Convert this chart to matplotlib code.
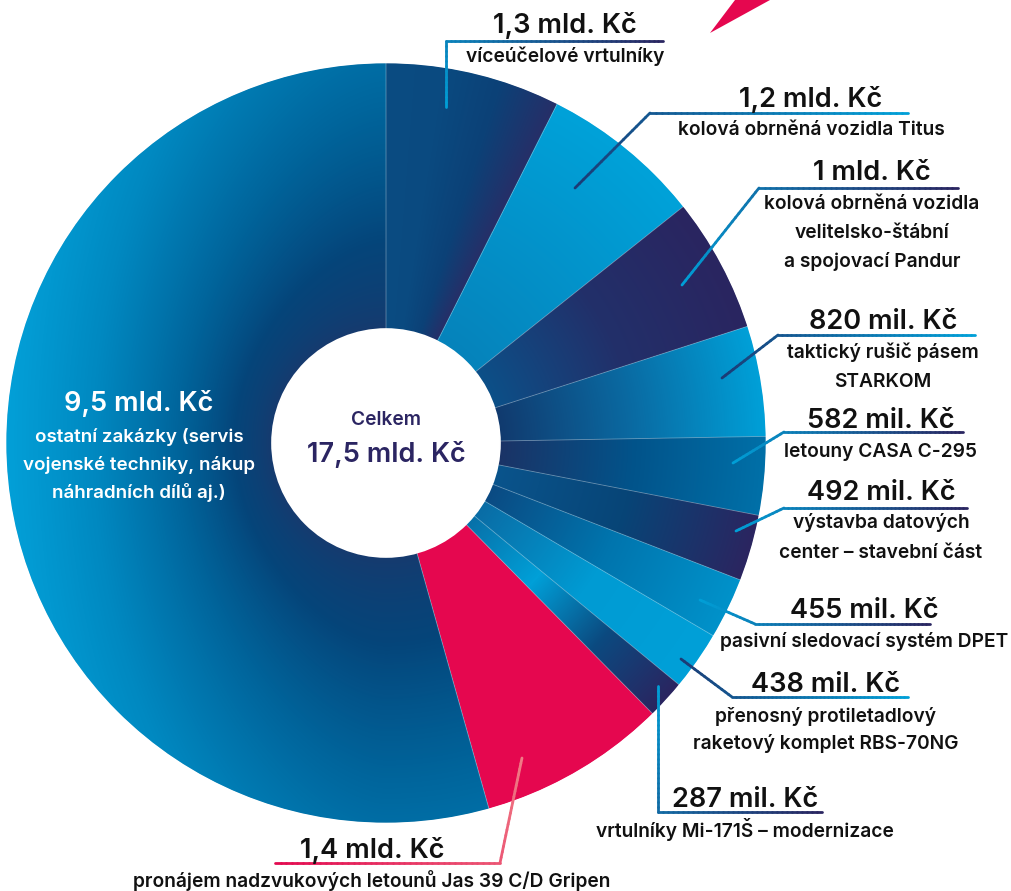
import numpy as np
import matplotlib.pyplot as plt
from matplotlib.colors import LinearSegmentedColormap
from matplotlib.collections import LineCollection
from matplotlib.patches import Polygon, Circle

plt.rcParams['font.family'] = ['Inter', 'DejaVu Sans']

W, H = 1012, 891

# Zakázky (mld. Kč), po směru hodinových ručiček od 12 hodin
values = [1.3, 1.2, 1.0, 0.82, 0.582, 0.492, 0.455, 0.438, 0.287, 1.4, 9.5]
value_labels = ['1,3 mld. Kč', '1,2 mld. Kč', '1 mld. Kč', '820 mil. Kč', '582 mil. Kč',
                '492 mil. Kč', '455 mil. Kč', '438 mil. Kč', '287 mil. Kč', '1,4 mld. Kč',
                '9,5 mld. Kč']
descriptions = [
    ['víceúčelové vrtulníky'],
    ['kolová obrněná vozidla Titus'],
    ['kolová obrněná vozidla', 'velitelsko-štábní', 'a spojovací Pandur'],
    ['taktický rušič pásem', 'STARKOM'],
    ['letouny CASA C-295'],
    ['výstavba datových', 'center – stavební část'],
    ['pasivní sledovací systém DPET'],
    ['přenosný protiletadlový', 'raketový komplet RBS-70NG'],
    ['vrtulníky Mi-171Š – modernizace'],
    ['pronájem nadzvukových letounů Jas 39 C/D Gripen'],
    ['ostatní zakázky (servis', 'vojenské techniky, nákup', 'náhradních dílů aj.)'],
]
total_caption = 'Celkem'
total_label = '17,5 mld. Kč'

# barevné přechody výsečí: (režim, zastávky)
LB, PURPLE, PINK = '#00a0d8', '#2a2560', '#e5074f'
wedge_styles = [
    ('angular', ['#0a4c82', '#0a4a80', '#0c4177', '#262f68']),
    ('radial', ['#0683bb', '#00a2d9']),
    ('radial', ['#0c5088', '#22306a', '#2a2560']),
    ('radial', ['#113a6e', '#0a6aa2', '#00a0d8']),
    ('radial', ['#1b3366', '#02538a', '#0070a8']),
    ('radial', ['#0a548c', '#074577', '#2b2560']),
    ('radial', ['#0b4a82', '#0075ae', '#0092ca']),
    ('radial', ['#0a6ca5', '#009bd3', '#00a0d8']),
    ('radial', ['#0870a8', '#00a0d8', '#0b4a80', '#2a2560']),
    ('solid', [PINK]),
    ('big', ['#173a6e', '#05457a', '#00679e', '#0088c0', '#03a0d8']),
]

# rozvržení popisků v pixelech (x, y od horního okraje)
# (x textu, účaří hodnoty, účaří popisů, vodicí čára, barva začátku, barva konce)
label_layout = [
    (565, 33, [62], [(446, 107), (446, 41), (663, 41)], LB, PURPLE),
    (811, 107, [135], [(575, 188), (650, 113), (908, 113)], '#1c3a74', LB),
    (872, 180, [209, 238, 267], [(682, 285), (759, 188), (958, 188)], LB, PURPLE),
    (883, 329, [358, 387], [(722, 378), (778, 335), (975, 335)], '#1c3a74', LB),
    (881, 428, [457], [(733, 463), (784, 432), (963, 432)], LB, PURPLE),
    (881, 500, [528, 558], [(736, 531), (784, 508), (967, 508)], LB, PURPLE),
    (864, 618, [647], [(700, 600), (755, 624), (930, 624)], LB, PURPLE),
    (826, 692, [722, 749], [(681, 659), (732, 697), (908, 697)], '#1c3a74', LB),
    (745, 807, [837], [(658, 686), (658, 812), (822, 812)], LB, PURPLE),
    (372, 858, [887], [(522, 758), (500, 863), (275, 863)], '#f07c86', '#e20a50'),
]

cx, cy = 386, H - 443
R, r_in = 380, 114

VAL_SIZE, DESC_SIZE = 19.6, 13.8


def py(y):
    return H - y


def gradient_line(ax, pts, c0, c1, lw=2.0, n=60):
    pts = np.array([(x, py(y)) for x, y in pts], dtype=float)
    seg_len = np.hypot(*np.diff(pts, axis=0).T)
    total = seg_len.sum()
    segs, ts = [], []
    done = 0.0
    for (p0, p1), L in zip(zip(pts[:-1], pts[1:]), seg_len):
        k = max(2, int(n * L / total))
        for i in range(k):
            a, b = i / k, (i + 1) / k
            segs.append([p0 + (p1 - p0) * a, p0 + (p1 - p0) * b])
            ts.append((done + L * (a + b) / 2) / total)
        done += L
    cmap = LinearSegmentedColormap.from_list('ln', [c0, c1])
    lc = LineCollection(segs, colors=cmap(np.array(ts)), linewidths=lw,
                        capstyle='round', zorder=5)
    ax.add_collection(lc)


fig = plt.figure(figsize=(W / 100, H / 100), dpi=100)
ax = fig.add_axes([0, 0, 1, 1])

wedges, _ = ax.pie(values, center=(cx, cy), radius=R, startangle=90, counterclock=False,
                   colors=[s[1][len(s[1]) // 2] for s in wedge_styles],
                   wedgeprops=dict(width=R - r_in, edgecolor='none'))

# přechody uvnitř výsečí
xs = np.arange(cx - R, cx + R + 1)
ys = np.arange(cy - R, cy + R + 1)
X, Y = np.meshgrid(xs, ys)
rr = np.hypot(X - cx, Y - cy)
th = np.degrees(np.arctan2(Y - cy, X - cx))
radial = np.clip((rr - r_in) / (R - r_in), 0, 1)
extent = (xs[0] - 0.5, xs[-1] + 0.5, ys[0] - 0.5, ys[-1] + 0.5)

for wdg, (mode, stops) in zip(wedges, wedge_styles):
    if mode == 'solid':
        continue
    cmap = LinearSegmentedColormap.from_list('w', stops)
    if mode == 'radial':
        t = radial
    elif mode == 'angular':
        t1, t2 = wdg.theta1, wdg.theta2
        ang = (th - t1) % 360 + t1
        t = np.clip((t2 - ang) / (t2 - t1), 0, 1)
    else:
        left = np.clip(-np.cos(np.radians(th)), 0, 1)
        t = np.clip(radial ** 0.7 * (0.55 + 0.45 * left ** 1.5), 0, 1)
    im = ax.imshow(cmap(t), extent=extent, origin='lower', interpolation='bilinear',
                   aspect='auto', zorder=2)
    im.set_clip_path(wdg)

# jemné dělicí čáry a vyhlazení okrajů
for wdg in wedges:
    t1 = np.radians(wdg.theta1)
    ax.plot([cx + r_in * np.cos(t1), cx + R * np.cos(t1)],
            [cy + r_in * np.sin(t1), cy + R * np.sin(t1)],
            color=(1, 1, 1, 0.35), lw=0.6, zorder=3)
ax.add_patch(Circle((cx, cy), R + 0.8, fill=False, edgecolor='white', lw=1.6, zorder=3))
ax.add_patch(Circle((cx, cy), r_in, facecolor='white', edgecolor='white', lw=1.2, zorder=3))

# růžová šipka nahoře
ax.add_patch(Polygon([(710, py(33)), (735, py(0)), (770, py(0))], closed=True,
                     facecolor=PINK, edgecolor='none', zorder=3))

# popisky vně grafu
for (tx, vy, dys, pts, c0, c1), val, desc in zip(label_layout, value_labels, descriptions):
    gradient_line(ax, pts, c0, c1)
    ax.text(tx, py(vy), val, ha='center', va='baseline', fontsize=VAL_SIZE,
            fontweight='semibold', color='#111111', zorder=6)
    for line, dy in zip(desc, dys):
        ax.text(tx, py(dy), line, ha='center', va='baseline', fontsize=DESC_SIZE,
                fontweight='semibold', color='#111111', zorder=6)

# popisek největší výseče
ax.text(139, py(411), value_labels[-1], ha='center', va='baseline', fontsize=VAL_SIZE,
        fontweight='semibold', color='white', zorder=6)
for line, dy in zip(descriptions[-1], [442, 470, 498]):
    ax.text(139, py(dy), line, ha='center', va='baseline', fontsize=13.5,
            fontweight='semibold', color='white', zorder=6)

# střed
ax.text(cx, py(425), total_caption, ha='center', va='baseline', fontsize=13.8,
        fontweight='semibold', color='#2b2562', zorder=6)
ax.text(cx, py(462), total_label, ha='center', va='baseline', fontsize=19.5,
        fontweight='semibold', color='#2b2562', zorder=6)

ax.set_xlim(0, W)
ax.set_ylim(0, H)
ax.set_aspect('auto')
ax.axis('off')

fig.savefig('out.png', dpi=100, facecolor='white')
